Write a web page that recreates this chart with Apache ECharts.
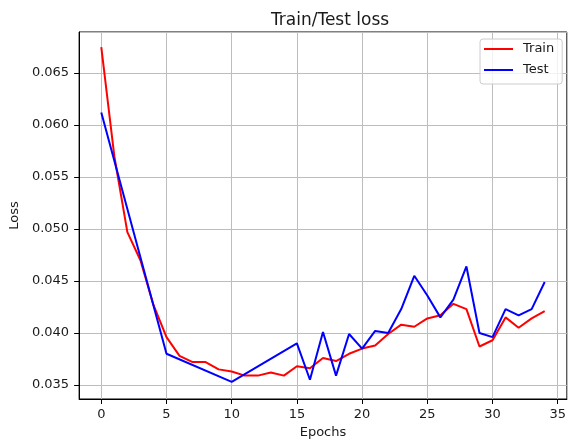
<!DOCTYPE html>
<html>
<head>
<meta charset="utf-8">
<script src="https://cdn.jsdelivr.net/npm/echarts@6/dist/echarts.min.js"></script>
<style>
  html, body { margin: 0; padding: 0; background: #fff; }
  #chart { width: 569px; height: 444px; }
</style>
</head>
<body>
<div id="chart"></div>
<script>
// Per-epoch training loss
const epochs = [0, 1, 2, 3, 4, 5, 6, 7, 8, 9, 10, 11, 12, 13, 14, 15, 16, 17, 18, 19,
                20, 21, 22, 23, 24, 25, 26, 27, 28, 29, 30, 31, 32, 33, 34];
const trainLoss = [0.0675, 0.0570, 0.0497, 0.0470, 0.0427, 0.0396, 0.0378, 0.0372, 0.0372, 0.0365,
                   0.0363, 0.0359, 0.0359, 0.0362, 0.0359, 0.0368, 0.0366, 0.0376, 0.0373, 0.0380,
                   0.0385, 0.0388, 0.0399, 0.0408, 0.0406, 0.0414, 0.0417, 0.0428, 0.0423, 0.0387,
                   0.0393, 0.0415, 0.0405, 0.0414, 0.0421];

// Test loss was evaluated only at these epochs
const testEpochs = [0, 5, 10, 15, 16, 17, 18, 19, 20, 21, 22, 23, 24, 25, 26, 27, 28, 29, 30, 31, 32, 33, 34];
const testLoss = [0.0612, 0.0380, 0.0353, 0.0390, 0.0355, 0.0401, 0.0359, 0.0399, 0.0385, 0.0402,
                  0.0400, 0.0423, 0.0455, 0.0436, 0.0415, 0.0432, 0.0464, 0.0400, 0.0396, 0.0423,
                  0.0417, 0.0423, 0.0449];

const seriesNames = ['Train', 'Test'];
const chartTitle = 'Train/Test loss';
const xAxisName = 'Epochs';
const yAxisName = 'Loss';

const FONT = 'DejaVu Sans';
const TEXT = '#1a1a1a';

const chart = echarts.init(document.getElementById('chart'), null, { renderer: 'canvas' });

chart.setOption({
  animation: false,
  backgroundColor: '#ffffff',
  textStyle: { fontFamily: FONT },
  title: {
    text: chartTitle,
    left: 325,
    top: 7,
    textAlign: 'center',
    textStyle: { fontFamily: FONT, fontSize: 17, fontWeight: 'normal', color: TEXT }
  },
  legend: {
    data: seriesNames,
    orient: 'vertical',
    left: 480,
    top: 39,
    padding: [3, 8, 7, 4],
    itemGap: 7,
    icon: 'rect',
    itemWidth: 29,
    itemHeight: 2,
    backgroundColor: 'rgba(255,255,255,0.8)',
    borderColor: '#cccccc',
    borderWidth: 1,
    borderRadius: 3,
    textStyle: { fontFamily: FONT, fontSize: 13, color: TEXT, lineHeight: 14, padding: [0, 0, 0, 5] }
  },
  grid: {
    left: 79,
    top: 32,
    right: -2.5,
    bottom: 44,
    show: true,
    borderColor: '#000',
    borderWidth: 1,
    containLabel: false
  },
  xAxis: {
    type: 'value',
    min: -1.7,
    max: 35.7,
    splitNumber: 8,
    name: xAxisName,
    nameLocation: 'middle',
    nameGap: 27,
    nameTextStyle: { fontFamily: FONT, fontSize: 13, color: TEXT },
    axisLine: { show: true, onZero: false, lineStyle: { color: '#000', width: 1 } },
    axisTick: { show: true, length: 5, lineStyle: { color: '#000', width: 1 } },
    axisLabel: {
      margin: 9, fontFamily: FONT, fontSize: 13, color: TEXT,
      showMinLabel: false, showMaxLabel: false,
      formatter: v => (Math.abs(v - Math.round(v)) < 1e-9 ? String(Math.round(v)) : '')
    },
    splitLine: { show: true, lineStyle: { color: '#bdbdbd', width: 1 } }
  },
  yAxis: {
    type: 'value',
    min: 0.03365,
    max: 0.06895,
    splitNumber: 7,
    name: yAxisName,
    nameLocation: 'middle',
    nameGap: 53,
    nameRotate: 90,
    nameTextStyle: { fontFamily: FONT, fontSize: 13, color: TEXT },
    axisLine: { show: true, onZero: false, lineStyle: { color: '#000', width: 1 } },
    axisTick: { show: true, length: 5, lineStyle: { color: '#000', width: 1 } },
    axisLabel: {
      margin: 10, fontFamily: FONT, fontSize: 13, color: TEXT,
      showMinLabel: false, showMaxLabel: false,
      formatter: v => v.toFixed(3)
    },
    splitLine: { show: true, lineStyle: { color: '#bdbdbd', width: 1 } }
  },
  series: [
    {
      name: seriesNames[0],
      type: 'line',
      data: epochs.map((e, i) => [e, trainLoss[i]]),
      showSymbol: false,
      lineStyle: { color: '#ff0000', width: 2 },
      itemStyle: { color: '#ff0000' },
      z: 2
    },
    {
      name: seriesNames[1],
      type: 'line',
      data: testEpochs.map((e, i) => [e, testLoss[i]]),
      showSymbol: false,
      lineStyle: { color: '#0000ff', width: 2 },
      itemStyle: { color: '#0000ff' },
      z: 3
    }
  ]
});
</script>
</body>
</html>
